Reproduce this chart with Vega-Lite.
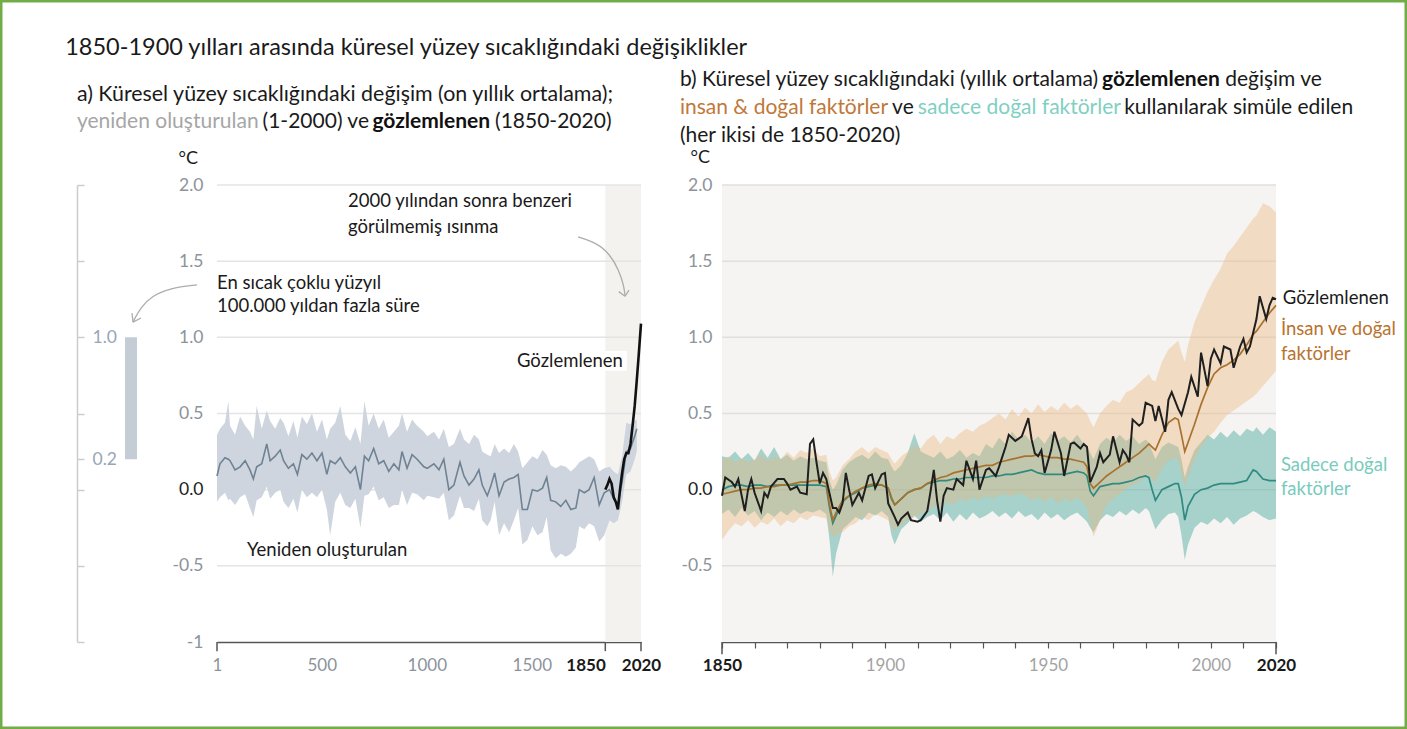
{
  "$schema": "https://vega.github.io/schema/vega-lite/v6.json",
  "width": 1407,
  "height": 729,
  "autosize": "none",
  "padding": 0,
  "background": "#ffffff",
  "config": {
    "view": {"stroke": "#70ad47", "strokeWidth": 5, "fill": null},
    "font": "Lato",
    "axis": {"labelFont": "Lato", "titleFont": "Lato"},
    "text": {"font": "Lato"}
  },
  "datasets": {
    "recon": [
      {"year":1,"c":0.09,"lo":-0.08,"hi":0.36},{"year":15,"c":0.17,"lo":-0.05,"hi":0.40},{"year":39,"c":0.21,"lo":-0.02,"hi":0.44},
      {"year":55,"c":0.20,"lo":-0.07,"hi":0.58},{"year":63,"c":0.19,"lo":-0.06,"hi":0.42},{"year":87,"c":0.13,"lo":-0.10,"hi":0.36},
      {"year":111,"c":0.15,"lo":-0.05,"hi":0.48},{"year":135,"c":0.19,"lo":-0.03,"hi":0.42},{"year":158,"c":0.13,"lo":-0.12,"hi":0.38},
      {"year":174,"c":0.07,"lo":-0.18,"hi":0.33},{"year":190,"c":0.15,"lo":-0.07,"hi":0.55},{"year":214,"c":0.17,"lo":-0.05,"hi":0.40},
      {"year":238,"c":0.30,"lo":0.02,"hi":0.52},{"year":254,"c":0.19,"lo":-0.06,"hi":0.45},{"year":278,"c":0.22,"lo":-0.02,"hi":0.40},
      {"year":302,"c":0.26,"lo":0.00,"hi":0.47},{"year":318,"c":0.19,"lo":-0.08,"hi":0.44},{"year":341,"c":0.14,"lo":-0.12,"hi":0.35},
      {"year":365,"c":0.17,"lo":-0.06,"hi":0.45},{"year":384,"c":0.10,"lo":-0.15,"hi":0.34},{"year":405,"c":0.23,"lo":0.00,"hi":0.48},
      {"year":429,"c":0.20,"lo":-0.05,"hi":0.43},{"year":453,"c":0.24,"lo":-0.02,"hi":0.50},{"year":477,"c":0.19,"lo":-0.05,"hi":0.38},
      {"year":501,"c":0.24,"lo":0.00,"hi":0.46},{"year":524,"c":0.10,"lo":-0.13,"hi":0.33},{"year":540,"c":0.19,"lo":-0.30,"hi":0.40},
      {"year":564,"c":0.17,"lo":-0.08,"hi":0.44},{"year":588,"c":0.21,"lo":-0.02,"hi":0.55},{"year":612,"c":0.15,"lo":-0.10,"hi":0.36},
      {"year":636,"c":0.11,"lo":-0.12,"hi":0.32},{"year":660,"c":0.15,"lo":-0.06,"hi":0.41},{"year":684,"c":0.00,"lo":-0.25,"hi":0.30},
      {"year":703,"c":0.22,"lo":-0.04,"hi":0.58},{"year":723,"c":0.19,"lo":-0.03,"hi":0.42},{"year":747,"c":0.27,"lo":0.02,"hi":0.50},
      {"year":771,"c":0.17,"lo":-0.07,"hi":0.40},{"year":795,"c":0.19,"lo":-0.05,"hi":0.46},{"year":819,"c":0.12,"lo":-0.12,"hi":0.34},
      {"year":843,"c":0.17,"lo":-0.10,"hi":0.38},{"year":867,"c":0.13,"lo":-0.10,"hi":0.42},{"year":882,"c":0.25,"lo":0.00,"hi":0.50},
      {"year":906,"c":0.14,"lo":-0.10,"hi":0.38},{"year":930,"c":0.23,"lo":-0.02,"hi":0.46},{"year":954,"c":0.20,"lo":-0.03,"hi":0.42},
      {"year":986,"c":0.15,"lo":-0.07,"hi":0.38},{"year":1002,"c":0.14,"lo":-0.04,"hi":0.35},{"year":1034,"c":0.17,"lo":-0.05,"hi":0.38},
      {"year":1058,"c":0.13,"lo":-0.06,"hi":0.33},{"year":1081,"c":0.20,"lo":-0.02,"hi":0.40},{"year":1105,"c":0.00,"lo":-0.20,"hi":0.28},
      {"year":1129,"c":0.03,"lo":-0.17,"hi":0.30},{"year":1158,"c":0.18,"lo":-0.04,"hi":0.40},{"year":1177,"c":0.09,"lo":-0.12,"hi":0.33},
      {"year":1201,"c":0.03,"lo":-0.12,"hi":0.30},{"year":1225,"c":0.07,"lo":-0.14,"hi":0.36},{"year":1248,"c":0.13,"lo":-0.06,"hi":0.33},
      {"year":1264,"c":0.03,"lo":-0.20,"hi":0.25},{"year":1288,"c":-0.04,"lo":-0.24,"hi":0.23},{"year":1304,"c":0.02,"lo":-0.20,"hi":0.22},
      {"year":1323,"c":0.11,"lo":-0.08,"hi":0.30},{"year":1344,"c":-0.04,"lo":-0.30,"hi":0.24},{"year":1368,"c":0.05,"lo":-0.22,"hi":0.27},
      {"year":1392,"c":0.07,"lo":-0.28,"hi":0.24},{"year":1415,"c":0.08,"lo":-0.20,"hi":0.30},{"year":1435,"c":0.10,"lo":-0.12,"hi":0.25},
      {"year":1455,"c":-0.13,"lo":-0.36,"hi":0.14},{"year":1479,"c":-0.13,"lo":-0.33,"hi":0.18},{"year":1503,"c":0.00,"lo":-0.24,"hi":0.22},
      {"year":1527,"c":-0.01,"lo":-0.30,"hi":0.20},{"year":1551,"c":0.01,"lo":-0.28,"hi":0.26},{"year":1571,"c":0.08,"lo":-0.18,"hi":0.23},
      {"year":1590,"c":-0.07,"lo":-0.40,"hi":0.16},{"year":1614,"c":-0.08,"lo":-0.45,"hi":0.14},{"year":1638,"c":-0.11,"lo":-0.42,"hi":0.16},
      {"year":1662,"c":-0.07,"lo":-0.44,"hi":0.15},{"year":1686,"c":-0.13,"lo":-0.42,"hi":0.12},{"year":1710,"c":-0.12,"lo":-0.38,"hi":0.15},
      {"year":1726,"c":0.00,"lo":-0.24,"hi":0.18},{"year":1750,"c":-0.02,"lo":-0.26,"hi":0.20},{"year":1773,"c":0.00,"lo":-0.22,"hi":0.22},
      {"year":1797,"c":0.08,"lo":-0.24,"hi":0.20},{"year":1821,"c":-0.10,"lo":-0.34,"hi":0.12},{"year":1845,"c":-0.02,"lo":-0.30,"hi":0.14},
      {"year":1870,"c":0.00,"lo":-0.20,"hi":0.15},{"year":1890,"c":-0.06,"lo":-0.22,"hi":0.12},{"year":1910,"c":-0.10,"lo":-0.20,"hi":0.10},
      {"year":1930,"c":0.05,"lo":-0.08,"hi":0.22},{"year":1950,"c":0.25,"lo":0.10,"hi":0.44},{"year":1970,"c":0.27,"lo":0.12,"hi":0.43},
      {"year":1990,"c":0.35,"lo":0.20,"hi":0.45},{"year":2000,"c":0.40,"lo":0.25,"hi":0.46}
    ],
    "obsA": [
      {"year":1850,"t":0.00},{"year":1860,"t":0.03},{"year":1870,"t":0.07},{"year":1880,"t":0.04},{"year":1890,"t":-0.05},
      {"year":1900,"t":-0.08},{"year":1910,"t":-0.13},{"year":1920,"t":0.00},{"year":1930,"t":0.11},{"year":1940,"t":0.20},
      {"year":1950,"t":0.24},{"year":1960,"t":0.24},{"year":1970,"t":0.30},{"year":1980,"t":0.42},{"year":1990,"t":0.55},
      {"year":2000,"t":0.72},{"year":2010,"t":0.90},{"year":2020,"t":1.09}
    ],
    "obs": [
      {"year":1850,"t":-0.04},{"year":1851,"t":0.08},{"year":1853,"t":0.05},{"year":1854,"t":0.02},{"year":1855,"t":0.07},
      {"year":1857,"t":-0.14},{"year":1858,"t":0.00},{"year":1859,"t":0.07},{"year":1860,"t":-0.02},{"year":1862,"t":-0.14},
      {"year":1863,"t":-0.02},{"year":1864,"t":-0.05},{"year":1865,"t":0.02},{"year":1867,"t":0.07},{"year":1869,"t":0.07},
      {"year":1870,"t":0.04},{"year":1871,"t":0.00},{"year":1873,"t":0.02},{"year":1874,"t":-0.02},{"year":1876,"t":-0.03},
      {"year":1877,"t":0.30},{"year":1878,"t":0.33},{"year":1879,"t":0.18},{"year":1880,"t":0.04},{"year":1881,"t":0.11},
      {"year":1882,"t":0.07},{"year":1884,"t":-0.12},{"year":1885,"t":-0.12},{"year":1886,"t":-0.15},{"year":1887,"t":-0.09},
      {"year":1888,"t":0.11},{"year":1889,"t":0.00},{"year":1890,"t":-0.10},{"year":1892,"t":-0.02},{"year":1893,"t":-0.07},
      {"year":1894,"t":0.01},{"year":1895,"t":0.09},{"year":1896,"t":0.10},{"year":1897,"t":0.01},{"year":1899,"t":0.10},
      {"year":1900,"t":0.11},{"year":1901,"t":-0.09},{"year":1903,"t":-0.18},{"year":1904,"t":-0.23},{"year":1905,"t":-0.19},
      {"year":1907,"t":-0.15},{"year":1908,"t":-0.20},{"year":1910,"t":-0.21},{"year":1911,"t":-0.20},{"year":1913,"t":-0.14},
      {"year":1914,"t":-0.01},{"year":1915,"t":0.13},{"year":1916,"t":-0.07},{"year":1917,"t":-0.21},{"year":1918,"t":-0.04},
      {"year":1919,"t":0.01},{"year":1921,"t":0.00},{"year":1922,"t":0.07},{"year":1924,"t":0.03},{"year":1925,"t":0.19},
      {"year":1927,"t":0.07},{"year":1928,"t":0.19},{"year":1929,"t":0.00},{"year":1931,"t":0.13},{"year":1932,"t":0.14},
      {"year":1934,"t":0.09},{"year":1935,"t":0.15},{"year":1937,"t":0.28},{"year":1938,"t":0.36},{"year":1940,"t":0.32},
      {"year":1942,"t":0.35},{"year":1944,"t":0.47},{"year":1945,"t":0.33},{"year":1946,"t":0.24},{"year":1947,"t":0.22},
      {"year":1948,"t":0.26},{"year":1949,"t":0.11},{"year":1951,"t":0.26},{"year":1952,"t":0.38},{"year":1954,"t":0.24},
      {"year":1955,"t":0.09},{"year":1957,"t":0.30},{"year":1958,"t":0.31},{"year":1960,"t":0.27},{"year":1961,"t":0.30},
      {"year":1962,"t":0.28},{"year":1963,"t":0.05},{"year":1965,"t":0.15},{"year":1966,"t":0.24},{"year":1967,"t":0.18},
      {"year":1969,"t":0.23},{"year":1970,"t":0.35},{"year":1972,"t":0.18},{"year":1973,"t":0.26},{"year":1974,"t":0.23},
      {"year":1975,"t":0.18},{"year":1976,"t":0.46},{"year":1978,"t":0.42},{"year":1979,"t":0.44},{"year":1980,"t":0.57},
      {"year":1982,"t":0.55},{"year":1983,"t":0.45},{"year":1984,"t":0.55},{"year":1986,"t":0.38},{"year":1987,"t":0.59},
      {"year":1988,"t":0.64},{"year":1990,"t":0.53},{"year":1991,"t":0.49},{"year":1993,"t":0.64},{"year":1994,"t":0.74},
      {"year":1996,"t":0.61},{"year":1997,"t":0.90},{"year":1999,"t":0.68},{"year":2000,"t":0.86},{"year":2001,"t":0.92},
      {"year":2003,"t":0.83},{"year":2004,"t":0.94},{"year":2006,"t":0.92},{"year":2007,"t":0.80},{"year":2009,"t":0.94},
      {"year":2010,"t":0.99},{"year":2011,"t":0.90},{"year":2012,"t":0.94},{"year":2014,"t":1.12},{"year":2015,"t":1.27},
      {"year":2017,"t":1.12},{"year":2018,"t":1.21},{"year":2019,"t":1.26},{"year":2020,"t":1.25}
    ],
    "sim": [
      {"year":1850,"hn":-0.03,"hn_lo":-0.33,"hn_hi":0.19,"n":0.00,"n_lo":-0.16,"n_hi":0.22},
      {"year":1852,"hn":-0.02,"hn_lo":-0.27,"hn_hi":0.22,"n":0.02,"n_lo":-0.13,"n_hi":0.21},
      {"year":1854,"hn":-0.01,"hn_lo":-0.22,"hn_hi":0.18,"n":0.03,"n_lo":-0.18,"n_hi":0.25},
      {"year":1856,"hn":0.00,"hn_lo":-0.24,"hn_hi":0.21,"n":0.03,"n_lo":-0.12,"n_hi":0.20},
      {"year":1858,"hn":0.00,"hn_lo":-0.20,"hn_hi":0.18,"n":0.02,"n_lo":-0.17,"n_hi":0.24},
      {"year":1860,"hn":0.01,"hn_lo":-0.25,"hn_hi":0.20,"n":0.03,"n_lo":-0.14,"n_hi":0.19},
      {"year":1862,"hn":0.01,"hn_lo":-0.21,"hn_hi":0.23,"n":0.03,"n_lo":-0.20,"n_hi":0.27},
      {"year":1864,"hn":0.02,"hn_lo":-0.23,"hn_hi":0.19,"n":0.02,"n_lo":-0.15,"n_hi":0.21},
      {"year":1866,"hn":0.02,"hn_lo":-0.19,"hn_hi":0.22,"n":0.03,"n_lo":-0.18,"n_hi":0.28},
      {"year":1868,"hn":0.03,"hn_lo":-0.24,"hn_hi":0.20,"n":0.03,"n_lo":-0.14,"n_hi":0.20},
      {"year":1870,"hn":0.03,"hn_lo":-0.20,"hn_hi":0.25,"n":0.03,"n_lo":-0.17,"n_hi":0.23},
      {"year":1872,"hn":0.04,"hn_lo":-0.22,"hn_hi":0.21,"n":0.03,"n_lo":-0.13,"n_hi":0.19},
      {"year":1874,"hn":0.05,"hn_lo":-0.18,"hn_hi":0.26,"n":0.03,"n_lo":-0.16,"n_hi":0.22},
      {"year":1876,"hn":0.05,"hn_lo":-0.20,"hn_hi":0.24,"n":0.03,"n_lo":-0.14,"n_hi":0.20},
      {"year":1878,"hn":0.06,"hn_lo":-0.17,"hn_hi":0.27,"n":0.03,"n_lo":-0.15,"n_hi":0.21},
      {"year":1880,"hn":0.06,"hn_lo":-0.18,"hn_hi":0.22,"n":0.03,"n_lo":-0.13,"n_hi":0.19},
      {"year":1882,"hn":0.04,"hn_lo":-0.19,"hn_hi":0.23,"n":0.02,"n_lo":-0.16,"n_hi":0.18},
      {"year":1883,"hn":-0.10,"hn_lo":-0.27,"hn_hi":0.12,"n":-0.12,"n_lo":-0.33,"n_hi":0.06},
      {"year":1884,"hn":-0.20,"hn_lo":-0.31,"hn_hi":0.06,"n":-0.22,"n_lo":-0.57,"n_hi":0.00},
      {"year":1885,"hn":-0.15,"hn_lo":-0.30,"hn_hi":0.08,"n":-0.17,"n_lo":-0.42,"n_hi":0.03},
      {"year":1887,"hn":-0.07,"hn_lo":-0.28,"hn_hi":0.16,"n":-0.08,"n_lo":-0.26,"n_hi":0.13},
      {"year":1889,"hn":-0.04,"hn_lo":-0.24,"hn_hi":0.20,"n":-0.04,"n_lo":-0.22,"n_hi":0.18},
      {"year":1891,"hn":-0.01,"hn_lo":-0.22,"hn_hi":0.25,"n":-0.02,"n_lo":-0.18,"n_hi":0.21},
      {"year":1893,"hn":0.01,"hn_lo":-0.18,"hn_hi":0.28,"n":0.01,"n_lo":-0.20,"n_hi":0.23},
      {"year":1895,"hn":0.03,"hn_lo":-0.20,"hn_hi":0.24,"n":0.02,"n_lo":-0.15,"n_hi":0.20},
      {"year":1897,"hn":0.04,"hn_lo":-0.16,"hn_hi":0.28,"n":0.03,"n_lo":-0.17,"n_hi":0.25},
      {"year":1899,"hn":0.03,"hn_lo":-0.18,"hn_hi":0.26,"n":0.03,"n_lo":-0.14,"n_hi":0.21},
      {"year":1901,"hn":0.01,"hn_lo":-0.20,"hn_hi":0.24,"n":0.01,"n_lo":-0.18,"n_hi":0.20},
      {"year":1902,"hn":-0.05,"hn_lo":-0.25,"hn_hi":0.20,"n":-0.06,"n_lo":-0.30,"n_hi":0.15},
      {"year":1903,"hn":-0.10,"hn_lo":-0.27,"hn_hi":0.17,"n":-0.10,"n_lo":-0.36,"n_hi":0.12},
      {"year":1905,"hn":-0.06,"hn_lo":-0.23,"hn_hi":0.22,"n":-0.06,"n_lo":-0.26,"n_hi":0.16},
      {"year":1907,"hn":-0.02,"hn_lo":-0.20,"hn_hi":0.25,"n":-0.02,"n_lo":-0.22,"n_hi":0.24},
      {"year":1909,"hn":0.00,"hn_lo":-0.18,"hn_hi":0.29,"n":0.00,"n_lo":-0.17,"n_hi":0.37},
      {"year":1911,"hn":0.01,"hn_lo":-0.16,"hn_hi":0.27,"n":0.01,"n_lo":-0.21,"n_hi":0.25},
      {"year":1913,"hn":0.04,"hn_lo":-0.14,"hn_hi":0.33,"n":0.04,"n_lo":-0.18,"n_hi":0.23},
      {"year":1915,"hn":0.06,"hn_lo":-0.11,"hn_hi":0.36,"n":0.05,"n_lo":-0.16,"n_hi":0.21},
      {"year":1917,"hn":0.08,"hn_lo":-0.12,"hn_hi":0.30,"n":0.06,"n_lo":-0.20,"n_hi":0.25},
      {"year":1919,"hn":0.09,"hn_lo":-0.08,"hn_hi":0.35,"n":0.06,"n_lo":-0.15,"n_hi":0.20},
      {"year":1921,"hn":0.11,"hn_lo":-0.10,"hn_hi":0.33,"n":0.07,"n_lo":-0.21,"n_hi":0.22},
      {"year":1923,"hn":0.12,"hn_lo":-0.06,"hn_hi":0.37,"n":0.07,"n_lo":-0.16,"n_hi":0.26},
      {"year":1925,"hn":0.13,"hn_lo":-0.08,"hn_hi":0.40,"n":0.08,"n_lo":-0.20,"n_hi":0.21},
      {"year":1927,"hn":0.14,"hn_lo":-0.05,"hn_hi":0.38,"n":0.08,"n_lo":-0.15,"n_hi":0.24},
      {"year":1929,"hn":0.15,"hn_lo":-0.07,"hn_hi":0.42,"n":0.08,"n_lo":-0.19,"n_hi":0.22},
      {"year":1931,"hn":0.16,"hn_lo":-0.04,"hn_hi":0.44,"n":0.08,"n_lo":-0.17,"n_hi":0.30},
      {"year":1933,"hn":0.16,"hn_lo":-0.06,"hn_hi":0.47,"n":0.09,"n_lo":-0.14,"n_hi":0.27},
      {"year":1935,"hn":0.18,"hn_lo":-0.04,"hn_hi":0.50,"n":0.09,"n_lo":-0.18,"n_hi":0.34},
      {"year":1937,"hn":0.19,"hn_lo":-0.03,"hn_hi":0.46,"n":0.10,"n_lo":-0.15,"n_hi":0.30},
      {"year":1939,"hn":0.20,"hn_lo":-0.05,"hn_hi":0.53,"n":0.10,"n_lo":-0.19,"n_hi":0.38},
      {"year":1941,"hn":0.21,"hn_lo":-0.02,"hn_hi":0.48,"n":0.11,"n_lo":-0.14,"n_hi":0.33},
      {"year":1943,"hn":0.22,"hn_lo":-0.04,"hn_hi":0.54,"n":0.12,"n_lo":-0.18,"n_hi":0.36},
      {"year":1945,"hn":0.22,"hn_lo":-0.07,"hn_hi":0.50,"n":0.13,"n_lo":-0.16,"n_hi":0.31},
      {"year":1947,"hn":0.23,"hn_lo":-0.05,"hn_hi":0.56,"n":0.11,"n_lo":-0.20,"n_hi":0.35},
      {"year":1949,"hn":0.22,"hn_lo":-0.08,"hn_hi":0.51,"n":0.10,"n_lo":-0.15,"n_hi":0.30},
      {"year":1951,"hn":0.21,"hn_lo":-0.05,"hn_hi":0.55,"n":0.10,"n_lo":-0.19,"n_hi":0.37},
      {"year":1953,"hn":0.21,"hn_lo":-0.09,"hn_hi":0.52,"n":0.10,"n_lo":-0.16,"n_hi":0.32},
      {"year":1955,"hn":0.20,"hn_lo":-0.06,"hn_hi":0.57,"n":0.10,"n_lo":-0.20,"n_hi":0.35},
      {"year":1957,"hn":0.20,"hn_lo":-0.08,"hn_hi":0.53,"n":0.11,"n_lo":-0.17,"n_hi":0.31},
      {"year":1959,"hn":0.19,"hn_lo":-0.05,"hn_hi":0.56,"n":0.12,"n_lo":-0.15,"n_hi":0.36},
      {"year":1961,"hn":0.18,"hn_lo":-0.09,"hn_hi":0.52,"n":0.11,"n_lo":-0.19,"n_hi":0.30},
      {"year":1962,"hn":0.15,"hn_lo":-0.12,"hn_hi":0.50,"n":0.09,"n_lo":-0.21,"n_hi":0.29},
      {"year":1963,"hn":0.04,"hn_lo":-0.22,"hn_hi":0.45,"n":-0.01,"n_lo":-0.25,"n_hi":0.24},
      {"year":1964,"hn":0.01,"hn_lo":-0.31,"hn_hi":0.41,"n":-0.04,"n_lo":-0.28,"n_hi":0.20},
      {"year":1966,"hn":0.05,"hn_lo":-0.20,"hn_hi":0.50,"n":0.02,"n_lo":-0.20,"n_hi":0.30},
      {"year":1968,"hn":0.09,"hn_lo":-0.10,"hn_hi":0.55,"n":0.03,"n_lo":-0.16,"n_hi":0.34},
      {"year":1970,"hn":0.12,"hn_lo":-0.06,"hn_hi":0.59,"n":0.04,"n_lo":-0.18,"n_hi":0.31},
      {"year":1972,"hn":0.15,"hn_lo":-0.03,"hn_hi":0.57,"n":0.04,"n_lo":-0.14,"n_hi":0.36},
      {"year":1974,"hn":0.18,"hn_lo":0.01,"hn_hi":0.64,"n":0.05,"n_lo":-0.17,"n_hi":0.32},
      {"year":1976,"hn":0.21,"hn_lo":0.03,"hn_hi":0.66,"n":0.06,"n_lo":-0.13,"n_hi":0.35},
      {"year":1978,"hn":0.24,"hn_lo":0.05,"hn_hi":0.70,"n":0.08,"n_lo":-0.16,"n_hi":0.30},
      {"year":1980,"hn":0.28,"hn_lo":0.08,"hn_hi":0.74,"n":0.09,"n_lo":-0.12,"n_hi":0.33},
      {"year":1981,"hn":0.30,"hn_lo":0.10,"hn_hi":0.76,"n":0.08,"n_lo":-0.14,"n_hi":0.31},
      {"year":1982,"hn":0.28,"hn_lo":0.06,"hn_hi":0.72,"n":0.00,"n_lo":-0.20,"n_hi":0.25},
      {"year":1983,"hn":0.26,"hn_lo":0.05,"hn_hi":0.71,"n":-0.07,"n_lo":-0.26,"n_hi":0.20},
      {"year":1985,"hn":0.36,"hn_lo":0.14,"hn_hi":0.84,"n":0.00,"n_lo":-0.20,"n_hi":0.28},
      {"year":1987,"hn":0.44,"hn_lo":0.19,"hn_hi":0.92,"n":0.02,"n_lo":-0.16,"n_hi":0.31},
      {"year":1989,"hn":0.47,"hn_lo":0.21,"hn_hi":0.96,"n":0.04,"n_lo":-0.15,"n_hi":0.29},
      {"year":1990,"hn":0.46,"hn_lo":0.19,"hn_hi":0.98,"n":0.04,"n_lo":-0.18,"n_hi":0.28},
      {"year":1991,"hn":0.36,"hn_lo":0.10,"hn_hi":0.90,"n":-0.05,"n_lo":-0.30,"n_hi":0.20},
      {"year":1992,"hn":0.25,"hn_lo":0.02,"hn_hi":0.84,"n":-0.20,"n_lo":-0.46,"n_hi":0.08},
      {"year":1993,"hn":0.31,"hn_lo":0.08,"hn_hi":0.95,"n":-0.11,"n_lo":-0.36,"n_hi":0.15},
      {"year":1995,"hn":0.43,"hn_lo":0.19,"hn_hi":1.10,"n":-0.03,"n_lo":-0.25,"n_hi":0.26},
      {"year":1997,"hn":0.56,"hn_lo":0.28,"hn_hi":1.20,"n":0.00,"n_lo":-0.21,"n_hi":0.31},
      {"year":1999,"hn":0.67,"hn_lo":0.34,"hn_hi":1.30,"n":0.01,"n_lo":-0.23,"n_hi":0.36},
      {"year":2001,"hn":0.76,"hn_lo":0.38,"hn_hi":1.38,"n":0.03,"n_lo":-0.19,"n_hi":0.33},
      {"year":2003,"hn":0.80,"hn_lo":0.44,"hn_hi":1.45,"n":0.04,"n_lo":-0.22,"n_hi":0.38},
      {"year":2005,"hn":0.82,"hn_lo":0.49,"hn_hi":1.55,"n":0.04,"n_lo":-0.18,"n_hi":0.34},
      {"year":2007,"hn":0.85,"hn_lo":0.52,"hn_hi":1.60,"n":0.04,"n_lo":-0.23,"n_hi":0.39},
      {"year":2009,"hn":0.89,"hn_lo":0.55,"hn_hi":1.66,"n":0.05,"n_lo":-0.19,"n_hi":0.35},
      {"year":2011,"hn":0.95,"hn_lo":0.58,"hn_hi":1.72,"n":0.06,"n_lo":-0.17,"n_hi":0.40},
      {"year":2013,"hn":1.02,"hn_lo":0.61,"hn_hi":1.78,"n":0.13,"n_lo":-0.14,"n_hi":0.38},
      {"year":2014,"hn":1.04,"hn_lo":0.63,"hn_hi":1.80,"n":0.12,"n_lo":-0.15,"n_hi":0.41},
      {"year":2016,"hn":1.10,"hn_lo":0.68,"hn_hi":1.88,"n":0.07,"n_lo":-0.18,"n_hi":0.36},
      {"year":2018,"hn":1.16,"hn_lo":0.73,"hn_hi":1.86,"n":0.06,"n_lo":-0.20,"n_hi":0.41},
      {"year":2020,"hn":1.21,"hn_lo":0.78,"hn_hi":1.82,"n":0.06,"n_lo":-0.19,"n_hi":0.38}
    ],
    "gridVals": [{"v":-0.5},{"v":0},{"v":0.5},{"v":1},{"v":1.5},{"v":2}],
    "arrowS": [
      {"g":"s","i":0,"x":120,"v":1.344},{"g":"s","i":1,"x":93,"v":1.324},{"g":"s","i":2,"x":75,"v":1.271},
      {"g":"s","i":3,"x":64,"v":1.199},{"g":"s","i":4,"x":57,"v":1.114},{"g":"s","i":5,"x":56,"v":1.100},
      {"g":"h1","i":0,"x":64,"v":1.127},{"g":"h1","i":1,"x":56,"v":1.100},
      {"g":"h2","i":0,"x":55,"v":1.159},{"g":"h2","i":1,"x":56,"v":1.100}
    ],
    "arrowA": [
      {"g":"s","i":0,"year":1720,"v":1.659},{"g":"s","i":1,"year":1810,"v":1.619},{"g":"s","i":2,"year":1872,"v":1.546},
      {"g":"s","i":3,"year":1915,"v":1.441},{"g":"s","i":4,"year":1939,"v":1.336},{"g":"s","i":5,"year":1944,"v":1.27},
      {"g":"h1","i":0,"year":1963,"v":1.31},{"g":"h1","i":1,"year":1944,"v":1.27},
      {"g":"h2","i":0,"year":1914,"v":1.30},{"g":"h2","i":1,"year":1944,"v":1.27}
    ],
    "txtA": [
      {"year":-722,"v":2.899,"text":"1850-1900 yılları arasında küresel yüzey sıcaklığındaki değişiklikler","k":"main"},
      {"year":-666,"v":2.591,"text":"a) Küresel yüzey sıcaklığındaki değişim (on yıllık ortalama);","k":"suba"},
      {"year":-666,"v":2.414,"text":"yeniden oluşturulan","k":"subgray"},
      {"year":218,"v":2.414,"text":"(1-2000) ve","k":"sub"},
      {"year":741,"v":2.414,"text":"gözlemlenen","k":"subbold"},
      {"year":1325,"v":2.414,"text":"(1850-2020)","k":"sub"},
      {"year":625,"v":1.895,"text":"2000 yılından sonra benzeri","k":"note"},
      {"year":625,"v":1.724,"text":"görülmemiş ısınma","k":"note"},
      {"year":1,"v":1.357,"text":"En sıcak çoklu yüzyıl","k":"note"},
      {"year":1,"v":1.206,"text":"100.000 yıldan fazla süre","k":"note"},
      {"year":1934,"v":0.845,"text":"Gözlemlenen","k":"noteR"},
      {"year":144,"v":-0.396,"text":"Yeniden oluşturulan","k":"note"}
    ],
    "txtB": [
      {"year":1837.1,"v":2.689,"text":"b) Küresel yüzey sıcaklığındaki (yıllık ortalama)","k":"sub"},
      {"year":1966.6,"v":2.689,"text":"gözlemlenen","k":"subbold"},
      {"year":2004.4,"v":2.689,"text":"değişim ve","k":"sub"},
      {"year":1837.1,"v":2.506,"text":"insan & doğal faktörler","k":"subbrown"},
      {"year":1902.2,"v":2.506,"text":"ve","k":"sub"},
      {"year":1910.1,"v":2.506,"text":"sadece doğal faktörler","k":"subteal"},
      {"year":1973.4,"v":2.506,"text":"kullanılarak simüle edilen","k":"sub"},
      {"year":1837.1,"v":2.322,"text":"(her ikisi de 1850-2020)","k":"sub"},
      {"year":2022.1,"v":1.258,"text":"Gözlemlenen","k":"lab"},
      {"year":2021.5,"v":1.055,"text":"İnsan ve doğal","k":"labbrown"},
      {"year":2021.5,"v":0.891,"text":"faktörler","k":"labbrown"},
      {"year":2021.5,"v":0.162,"text":"Sadece doğal","k":"labteal"},
      {"year":2021.5,"v":0.004,"text":"faktörler","k":"labteal"}
    ]
  },
  "resolve": {"scale": {"x": "independent"}, "axis": {"x": "independent", "y": "independent"}},
  "layer": [
    {
      "layer": [
        {
          "data": {"values": [{"lo": 0.2, "hi": 1.0}]},
          "mark": {"type": "rect", "fill": "#c4ccd6"},
          "encoding": {
            "x": {"datum": 48, "type": "quantitative", "scale": {"domain": [0, 60], "range": [77, 137], "nice": false, "zero": false}, "axis": null},
            "x2": {"datum": 60},
            "y": {"field": "lo", "type": "quantitative", "scale": {"domain": [-1, 2], "range": [642, 185], "nice": false, "zero": false},
              "axis": {"orient": "left", "offset": -77, "values": [-1, -0.5, 0, 0.2, 0.5, 1, 1.5, 2], "grid": false,
                "domain": true, "domainColor": "#c9ccd0", "domainWidth": 1.5,
                "ticks": true, "tickColor": "#c9ccd0", "tickWidth": 1.5, "tickSize": -7,
                "labelExpr": "datum.value == 1 ? '1.0' : (datum.value == 0.2 ? '0.2' : '')",
                "labelAlign": "left", "labelPadding": -8, "labelFontSize": 17.5, "labelColor": "#98a5b3", "title": null}},
            "y2": {"field": "hi"}
          }
        },
        {
          "data": {"name": "arrowS"},
          "mark": {"type": "line", "interpolate": "basis", "color": "#adadad", "strokeWidth": 1.3},
          "encoding": {
            "x": {"field": "x", "type": "quantitative", "scale": {"domain": [0, 60], "range": [77, 137], "nice": false, "zero": false}},
            "y": {"field": "v", "type": "quantitative", "scale": {"domain": [-1, 2], "range": [642, 185], "nice": false, "zero": false}},
            "detail": {"field": "g"},
            "order": {"field": "i"}
          }
        }
      ]
    },
    {
      "layer": [
        {
          "data": {"values": [{"from": 1850, "to": 2020}]},
          "mark": {"type": "rect", "fill": "#f3f2ef"},
          "encoding": {
            "x": {"field": "from", "type": "quantitative", "scale": {"domain": [1, 2020], "range": [217, 641], "nice": false, "zero": false},
              "axis": {"orient": "bottom", "offset": -87, "values": [1, 500, 1000, 1500, 1850, 2020], "format": "d", "grid": false,
                "domain": true, "domainColor": "#555555", "domainWidth": 1.5, "ticks": false,
                "labelFlush": false, "labelOverlap": false, "labelBound": false, "labelFontSize": 17, "labelPadding": 15,
                "labelFontWeight": {"condition": {"test": "datum.value >= 1850", "value": "bold"}, "value": "normal"},
                "labelColor": {"condition": {"test": "datum.value >= 1850", "value": "#1a1a1a"}, "value": "#8c939b"},
                "labelAlign": {"condition": {"test": "datum.value == 1850", "value": "right"}, "value": "center"},
                "title": null}},
            "x2": {"field": "to"},
            "y": {"datum": -1, "type": "quantitative", "scale": {"domain": [-1, 2], "range": [642, 185], "nice": false, "zero": false},
              "axis": {"orient": "left", "offset": -217, "values": [-1, -0.5, 0, 0.5, 1, 1.5, 2], "grid": false, "domain": false, "ticks": false,
                "labelExpr": "datum.value == -1 ? '-1' : (datum.value < 0 ? '-' : '') + format(abs(datum.value), '.1f')",
                "labelFontSize": 17.5, "labelPadding": 14,
                "labelColor": {"condition": {"test": "datum.value == 0", "value": "#222222"}, "value": "#8c939b"},
                "title": "°C", "titleFontSize": 18, "titleFontWeight": "normal", "titleColor": "#1a1a1a",
                "titleAngle": 0, "titleAlign": "left", "titleBaseline": "middle", "titleX": -39, "titleY": 158}},
            "y2": {"datum": 2}
          }
        },
        {
          "data": {"name": "gridVals"},
          "mark": {"type": "rule", "color": "#e4e4e4", "strokeWidth": 1.5},
          "encoding": {
            "x": {"datum": 1, "type": "quantitative"},
            "x2": {"datum": 2020},
            "y": {"field": "v", "type": "quantitative"}
          }
        },
        {
          "data": {"name": "recon"},
          "mark": {"type": "area", "fill": "#cbd3dc", "opacity": 0.95},
          "encoding": {
            "x": {"field": "year", "type": "quantitative"},
            "y": {"field": "lo", "type": "quantitative"},
            "y2": {"field": "hi"}
          }
        },
        {
          "data": {"name": "recon"},
          "mark": {"type": "line", "color": "#6f8293", "strokeWidth": 1.6},
          "encoding": {
            "x": {"field": "year", "type": "quantitative"},
            "y": {"field": "c", "type": "quantitative"}
          }
        },
        {
          "data": {"name": "obsA"},
          "mark": {"type": "line", "color": "#111111", "strokeWidth": 2.6},
          "encoding": {
            "x": {"field": "year", "type": "quantitative"},
            "y": {"field": "t", "type": "quantitative"}
          }
        },
        {
          "data": {"values": [{"year": 1}, {"year": 1850}, {"year": 2020}]},
          "mark": {"type": "rule", "color": "#555555", "strokeWidth": 1.5},
          "encoding": {
            "x": {"field": "year", "type": "quantitative"},
            "y": {"datum": -1, "type": "quantitative"},
            "y2": {"datum": -1.06}
          }
        },
        {
          "data": {"values": [{"from": 1482, "to": 1953, "lo": 0.78, "hi": 0.91}]},
          "mark": {"type": "rect", "fill": "#ffffff"},
          "encoding": {
            "x": {"field": "from", "type": "quantitative"},
            "x2": {"field": "to"},
            "y": {"field": "lo", "type": "quantitative"},
            "y2": {"field": "hi"}
          }
        },
        {
          "data": {"name": "arrowA"},
          "mark": {"type": "line", "interpolate": "basis", "color": "#adadad", "strokeWidth": 1.3},
          "encoding": {
            "x": {"field": "year", "type": "quantitative"},
            "y": {"field": "v", "type": "quantitative"},
            "detail": {"field": "g"},
            "order": {"field": "i"}
          }
        },
        {
          "data": {"name": "txtA"},
          "transform": [{"filter": "datum.k == 'main'"}],
          "mark": {"type": "text", "align": "left", "baseline": "middle", "fontSize": 23.5, "color": "#1a1a1a"},
          "encoding": {"x": {"field": "year", "type": "quantitative"}, "y": {"field": "v", "type": "quantitative"}, "text": {"field": "text"}}
        },
        {
          "data": {"name": "txtA"},
          "transform": [{"filter": "datum.k == 'suba'"}],
          "mark": {"type": "text", "align": "left", "baseline": "middle", "fontSize": 21.4, "color": "#1a1a1a"},
          "encoding": {"x": {"field": "year", "type": "quantitative"}, "y": {"field": "v", "type": "quantitative"}, "text": {"field": "text"}}
        },
        {
          "data": {"name": "txtA"},
          "transform": [{"filter": "datum.k == 'sub'"}],
          "mark": {"type": "text", "align": "left", "baseline": "middle", "fontSize": 21, "color": "#1a1a1a"},
          "encoding": {"x": {"field": "year", "type": "quantitative"}, "y": {"field": "v", "type": "quantitative"}, "text": {"field": "text"}}
        },
        {
          "data": {"name": "txtA"},
          "transform": [{"filter": "datum.k == 'subgray'"}],
          "mark": {"type": "text", "align": "left", "baseline": "middle", "fontSize": 21, "color": "#a6a6a6"},
          "encoding": {"x": {"field": "year", "type": "quantitative"}, "y": {"field": "v", "type": "quantitative"}, "text": {"field": "text"}}
        },
        {
          "data": {"name": "txtA"},
          "transform": [{"filter": "datum.k == 'subbold'"}],
          "mark": {"type": "text", "align": "left", "baseline": "middle", "fontSize": 21, "fontWeight": "bold", "color": "#111111"},
          "encoding": {"x": {"field": "year", "type": "quantitative"}, "y": {"field": "v", "type": "quantitative"}, "text": {"field": "text"}}
        },
        {
          "data": {"name": "txtA"},
          "transform": [{"filter": "datum.k == 'note'"}],
          "mark": {"type": "text", "align": "left", "baseline": "middle", "fontSize": 18.5, "color": "#1a1a1a"},
          "encoding": {"x": {"field": "year", "type": "quantitative"}, "y": {"field": "v", "type": "quantitative"}, "text": {"field": "text"}}
        },
        {
          "data": {"name": "txtA"},
          "transform": [{"filter": "datum.k == 'noteR'"}],
          "mark": {"type": "text", "align": "right", "baseline": "middle", "fontSize": 18.5, "color": "#1a1a1a"},
          "encoding": {"x": {"field": "year", "type": "quantitative"}, "y": {"field": "v", "type": "quantitative"}, "text": {"field": "text"}}
        }
      ]
    },
    {
      "layer": [
        {
          "data": {"values": [{"from": 1850, "to": 2020}]},
          "mark": {"type": "rect", "fill": "#f5f4f2"},
          "encoding": {
            "x": {"field": "from", "type": "quantitative", "scale": {"domain": [1850, 2020], "range": [722, 1276], "nice": false, "zero": false},
              "axis": {"orient": "bottom", "offset": -87,
                "values": [1850, 1860, 1870, 1880, 1890, 1900, 1910, 1920, 1930, 1940, 1950, 1960, 1970, 1980, 1990, 2000, 2010, 2020],
                "format": "d", "grid": false, "domain": true, "domainColor": "#555555", "domainWidth": 1.5,
                "ticks": true, "tickColor": "#555555", "tickWidth": 1.2, "tickSize": 6,
                "labelExpr": "indexof([1850, 1900, 1950, 2000, 2020], datum.value) >= 0 ? datum.label : ''",
                "labelFlush": false, "labelOverlap": false, "labelBound": false, "labelFontSize": 17, "labelPadding": 9,
                "labelFontWeight": {"condition": {"test": "datum.value == 1850 || datum.value == 2020", "value": "bold"}, "value": "normal"},
                "labelColor": {"condition": {"test": "datum.value == 1850 || datum.value == 2020", "value": "#1a1a1a"}, "value": "#a3a3a3"},
                "title": null}},
            "x2": {"field": "to"},
            "y": {"datum": -1, "type": "quantitative", "scale": {"domain": [-1, 2], "range": [642, 185], "nice": false, "zero": false},
              "axis": {"orient": "left", "offset": -722, "values": [-0.5, 0, 0.5, 1, 1.5, 2], "grid": false, "domain": false, "ticks": false,
                "labelExpr": "(datum.value < 0 ? '-' : '') + format(abs(datum.value), '.1f')",
                "labelFontSize": 17.5, "labelPadding": 10,
                "labelColor": {"condition": {"test": "datum.value == 0", "value": "#222222"}, "value": "#8c939b"},
                "title": "°C", "titleFontSize": 18, "titleFontWeight": "normal", "titleColor": "#1a1a1a",
                "titleAngle": 0, "titleAlign": "left", "titleBaseline": "middle", "titleX": -32, "titleY": 157}},
            "y2": {"datum": 2}
          }
        },
        {
          "data": {"name": "gridVals"},
          "mark": {"type": "rule", "color": "#e1dfdc", "strokeWidth": 1.5},
          "encoding": {
            "x": {"datum": 1850, "type": "quantitative"},
            "x2": {"datum": 2020},
            "y": {"field": "v", "type": "quantitative"}
          }
        },
        {
          "data": {"name": "sim"},
          "mark": {"type": "area", "fill": "#57b0a4", "opacity": 0.5},
          "encoding": {
            "x": {"field": "year", "type": "quantitative"},
            "y": {"field": "n_lo", "type": "quantitative"},
            "y2": {"field": "n_hi"}
          }
        },
        {
          "data": {"name": "sim"},
          "mark": {"type": "area", "fill": "#eab67c", "opacity": 0.4},
          "encoding": {
            "x": {"field": "year", "type": "quantitative"},
            "y": {"field": "hn_lo", "type": "quantitative"},
            "y2": {"field": "hn_hi"}
          }
        },
        {
          "data": {"name": "sim"},
          "mark": {"type": "line", "color": "#2f8a7f", "strokeWidth": 1.7},
          "encoding": {
            "x": {"field": "year", "type": "quantitative"},
            "y": {"field": "n", "type": "quantitative"}
          }
        },
        {
          "data": {"name": "sim"},
          "mark": {"type": "line", "color": "#a8722e", "strokeWidth": 1.7},
          "encoding": {
            "x": {"field": "year", "type": "quantitative"},
            "y": {"field": "hn", "type": "quantitative"}
          }
        },
        {
          "data": {"name": "obs"},
          "mark": {"type": "line", "color": "#1f1f1f", "strokeWidth": 2},
          "encoding": {
            "x": {"field": "year", "type": "quantitative"},
            "y": {"field": "t", "type": "quantitative"}
          }
        },
        {
          "data": {"values": [{"year": 1850}, {"year": 2020}]},
          "mark": {"type": "rule", "color": "#555555", "strokeWidth": 1.5},
          "encoding": {
            "x": {"field": "year", "type": "quantitative"},
            "y": {"datum": -1, "type": "quantitative"},
            "y2": {"datum": -1.08}
          }
        },
        {
          "data": {"name": "txtB"},
          "transform": [{"filter": "datum.k == 'sub'"}],
          "mark": {"type": "text", "align": "left", "baseline": "middle", "fontSize": 21, "color": "#1a1a1a"},
          "encoding": {"x": {"field": "year", "type": "quantitative"}, "y": {"field": "v", "type": "quantitative"}, "text": {"field": "text"}}
        },
        {
          "data": {"name": "txtB"},
          "transform": [{"filter": "datum.k == 'subbold'"}],
          "mark": {"type": "text", "align": "left", "baseline": "middle", "fontSize": 21, "fontWeight": "bold", "color": "#111111"},
          "encoding": {"x": {"field": "year", "type": "quantitative"}, "y": {"field": "v", "type": "quantitative"}, "text": {"field": "text"}}
        },
        {
          "data": {"name": "txtB"},
          "transform": [{"filter": "datum.k == 'subbrown'"}],
          "mark": {"type": "text", "align": "left", "baseline": "middle", "fontSize": 21, "color": "#c0783a"},
          "encoding": {"x": {"field": "year", "type": "quantitative"}, "y": {"field": "v", "type": "quantitative"}, "text": {"field": "text"}}
        },
        {
          "data": {"name": "txtB"},
          "transform": [{"filter": "datum.k == 'subteal'"}],
          "mark": {"type": "text", "align": "left", "baseline": "middle", "fontSize": 21, "color": "#7fd0c2"},
          "encoding": {"x": {"field": "year", "type": "quantitative"}, "y": {"field": "v", "type": "quantitative"}, "text": {"field": "text"}}
        },
        {
          "data": {"name": "txtB"},
          "transform": [{"filter": "datum.k == 'lab'"}],
          "mark": {"type": "text", "align": "left", "baseline": "middle", "fontSize": 18.5, "color": "#1a1a1a"},
          "encoding": {"x": {"field": "year", "type": "quantitative"}, "y": {"field": "v", "type": "quantitative"}, "text": {"field": "text"}}
        },
        {
          "data": {"name": "txtB"},
          "transform": [{"filter": "datum.k == 'labbrown'"}],
          "mark": {"type": "text", "align": "left", "baseline": "middle", "fontSize": 18.5, "color": "#b8732f"},
          "encoding": {"x": {"field": "year", "type": "quantitative"}, "y": {"field": "v", "type": "quantitative"}, "text": {"field": "text"}}
        },
        {
          "data": {"name": "txtB"},
          "transform": [{"filter": "datum.k == 'labteal'"}],
          "mark": {"type": "text", "align": "left", "baseline": "middle", "fontSize": 18.5, "color": "#78cbbd"},
          "encoding": {"x": {"field": "year", "type": "quantitative"}, "y": {"field": "v", "type": "quantitative"}, "text": {"field": "text"}}
        }
      ]
    }
  ]
}
